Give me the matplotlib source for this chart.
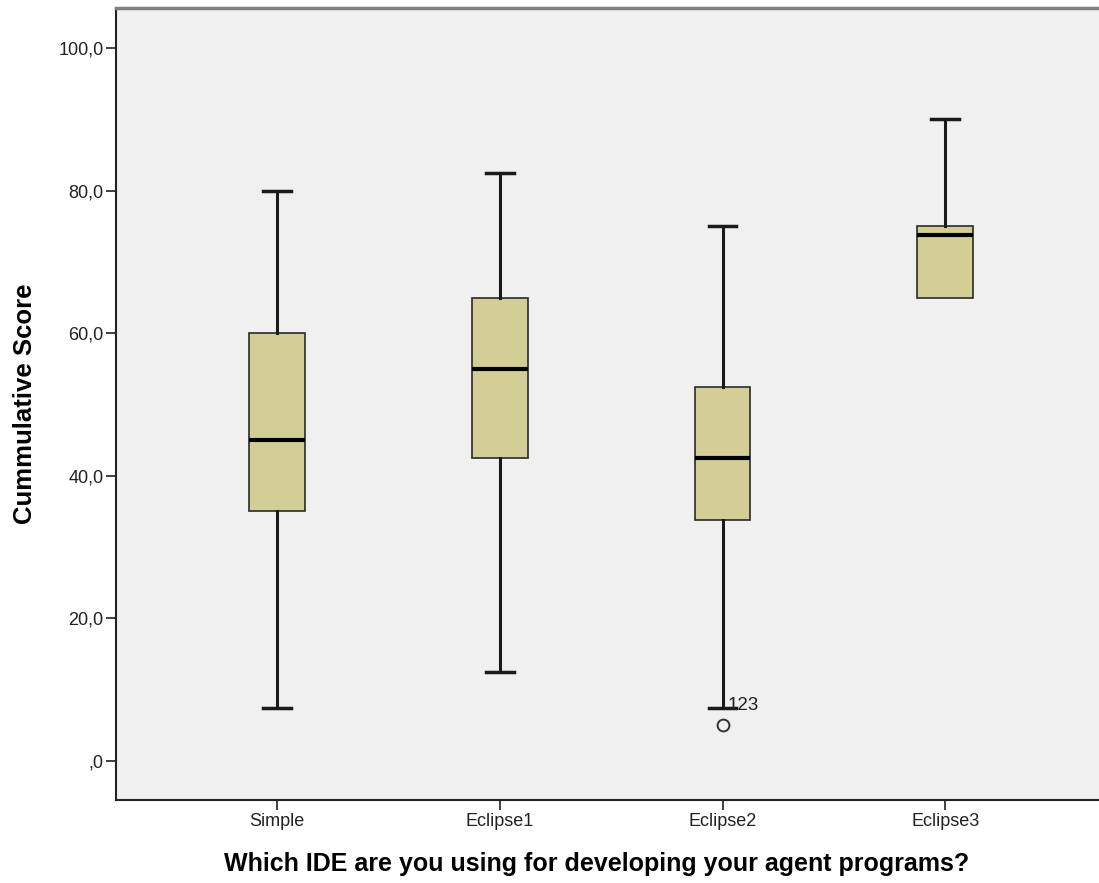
import matplotlib
matplotlib.use("Agg")
import matplotlib.pyplot as plt

plt.rcParams['font.family'] = ['Liberation Sans', 'DejaVu Sans']

categories = ["Simple", "Eclipse1", "Eclipse2", "Eclipse3"]
whislo = [7.5, 12.5, 7.5, 65.0]
q1 = [35.0, 42.5, 33.75, 65.0]
med = [45.0, 55.0, 42.5, 73.75]
q3 = [60.0, 65.0, 52.5, 75.0]
whishi = [80.0, 82.5, 75.0, 90.0]
outliers = [[], [], [5.0], []]
outlier_labels = [[], [], ["123"], []]
yticks = [0, 20, 40, 60, 80, 100]
ytick_labels = [",0", "20,0", "40,0", "60,0", "80,0", "100,0"]

fig = plt.figure(figsize=(10.99, 8.83), dpi=100)
ax = fig.add_axes([116/1099, 1 - 800/883, (1099 - 116)/1099, (800 - 8)/883])
ax.set_facecolor('#F0F0F0')

stats = []
for i, c in enumerate(categories):
    stats.append(dict(label=c, whislo=whislo[i], q1=q1[i], med=med[i],
                      q3=q3[i], whishi=whishi[i], fliers=outliers[i]))

positions = list(range(len(categories)))
arts = ax.bxp(stats, positions=positions, widths=0.25, patch_artist=True,
              boxprops=dict(facecolor='#D2CE96', edgecolor='#2a2a2a', linewidth=1.2),
              medianprops=dict(color='black', linewidth=3),
              whiskerprops=dict(color='#1a1a1a', linewidth=2.2),
              capprops=dict(color='#1a1a1a', linewidth=2.5),
              capwidths=0.125,
              flierprops=dict(marker='o', markerfacecolor='none', markeredgecolor='#333333',
                              markersize=8.5, markeredgewidth=1.4))

# hide zero-length lower whiskers/caps
for i in range(len(categories)):
    if whislo[i] >= q1[i]:
        arts['caps'][2 * i].set_visible(False)
        arts['whiskers'][2 * i].set_visible(False)

for i, labs in enumerate(outlier_labels):
    for v, lab in zip(outliers[i], labs):
        ax.annotate(lab, xy=(positions[i], v), xytext=(3.5, 14.5), textcoords='offset points',
                    fontsize=13.5, color='#222222', ha='left', va='center')

ax.set_xlim(-0.723, 3.69)
ax.set_ylim(-5.47, 105.6)
ax.set_yticks(yticks)
ax.set_yticklabels(ytick_labels)
ax.set_xticks(positions)
ax.set_xticklabels(categories)
ax.tick_params(axis='both', direction='out', length=7, width=1.3, color='#333333',
               labelsize=13, labelcolor='#222222', pad=2)

ax.spines['top'].set_color('#808080')
ax.spines['top'].set_linewidth(2.5)
ax.spines['right'].set_visible(False)
ax.spines['left'].set_color('#222222')
ax.spines['left'].set_linewidth(1.5)
ax.spines['bottom'].set_color('#222222')
ax.spines['bottom'].set_linewidth(1.5)

ax.set_ylabel("Cummulative Score", fontsize=18.5, fontweight='bold')
ax.yaxis.set_label_coords(-0.0804, 0.5)
ax.set_xlabel("Which IDE are you using for developing your agent programs?",
              fontsize=18, fontweight='bold')
ax.xaxis.set_label_coords(0.489, -0.066)

fig.savefig("out.png", dpi=100, facecolor='white')
